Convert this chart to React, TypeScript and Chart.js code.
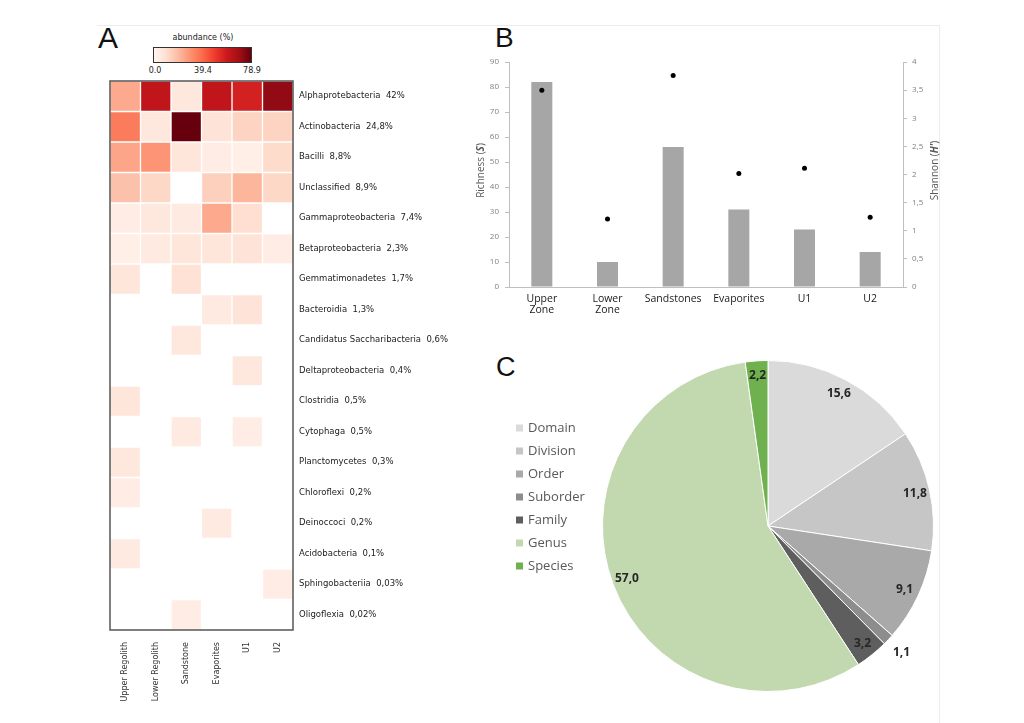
import React, { useEffect, useRef } from "react";
import { Chart, registerables } from "chart.js";
Chart.register(...registerables);

// ---------- Panel A data ----------
const taxa = [
  "Alphaprotebacteria", "Actinobacteria", "Bacilli", "Unclassified", "Gammaproteobacteria",
  "Betaproteobacteria", "Gemmatimonadetes", "Bacteroidia", "Candidatus Saccharibacteria",
  "Deltaproteobacteria", "Clostridia", "Cytophaga", "Planctomycetes", "Chloroflexi",
  "Deinoccoci", "Acidobacteria", "Sphingobacteriia", "Oligoflexia",
];
const taxaShare = [
  "42%", "24,8%", "8,8%", "8,9%", "7,4%", "2,3%", "1,7%", "1,3%", "0,6%",
  "0,4%", "0,5%", "0,5%", "0,3%", "0,2%", "0,2%", "0,1%", "0,03%", "0,02%",
];
const sites = ["Upper Regolith", "Lower Regolith", "Sandstone", "Evaporites", "U1", "U2"];
const abundAlpha = [24, 62, 6, 62, 57, 72];
const abundActino = [35, 6, 78.9, 8, 13, 13];
const abundBacilli = [25, 29, 7, 4, 3, 11];
const abundUnclass = [18, 12, 0, 14, 21, 12];
const abundGamma = [4, 6, 5, 24, 10, 0];
const abundBeta = [3, 5, 7, 7, 8, 4];
const abundGemma = [7, 0, 9, 0, 0, 0];
const abundBactero = [0, 0, 0, 5, 8, 0];
const abundCandid = [0, 0, 6, 0, 0, 0];
const abundDelta = [0, 0, 0, 0, 6, 0];
const abundClostr = [7, 0, 0, 0, 0, 0];
const abundCyto = [0, 0, 5, 0, 4, 0];
const abundPlancto = [6, 0, 0, 0, 0, 0];
const abundChloro = [4, 0, 0, 0, 0, 0];
const abundDeino = [0, 0, 0, 5, 0, 0];
const abundAcido = [5, 0, 0, 0, 0, 0];
const abundSphingo = [0, 0, 0, 0, 0, 4];
const abundOligo = [0, 0, 4, 0, 0, 0];
const abundance = [
  abundAlpha, abundActino, abundBacilli, abundUnclass, abundGamma, abundBeta,
  abundGemma, abundBactero, abundCandid, abundDelta, abundClostr, abundCyto,
  abundPlancto, abundChloro, abundDeino, abundAcido, abundSphingo, abundOligo,
];
const abundanceMax = 78.9;
const colorbarTicks = ["0.0", "39.4", "78.9"];

// ---------- Panel B data ----------
const zones = [["Upper", "Zone"], ["Lower", "Zone"], "Sandstones", "Evaporites", "U1", "U2"];
const richness = [82, 10, 56, 31, 23, 14];
const shannon = [3.5, 1.21, 3.76, 2.02, 2.11, 1.24];

// ---------- Panel C data ----------
const levels = ["Domain", "Division", "Order", "Suborder", "Family", "Genus", "Species"];
const levelShare = [15.6, 11.8, 9.1, 1.1, 3.2, 57.0, 2.2];
const levelColors = ["#dadada", "#c6c6c6", "#a9a9a9", "#8d8d8d", "#5e5e5e", "#c2d9b0", "#6fb04f"];

// ---------- helpers ----------
const redsStops = ["#fff5f0", "#fee0d2", "#fcbba1", "#fc9272", "#fb6a4a", "#ef3b2c", "#cb181d", "#a50f15", "#67000d"];
function hexToRgb(h: string) {
  return [parseInt(h.slice(1, 3), 16), parseInt(h.slice(3, 5), 16), parseInt(h.slice(5, 7), 16)];
}
function reds(v: number) {
  if (v <= 0) return "#ffffff";
  const t = Math.min(v / abundanceMax, 1) * (redsStops.length - 1);
  const i = Math.min(Math.floor(t), redsStops.length - 2);
  const f = t - i;
  const a = hexToRgb(redsStops[i]);
  const b = hexToRgb(redsStops[i + 1]);
  const c = a.map((x, k) => Math.round(x + (b[k] - x) * f));
  return `rgb(${c[0]},${c[1]},${c[2]})`;
}

const SANS = "'Open Sans', 'Liberation Sans', sans-serif";
const DJ = "'DejaVu Sans', sans-serif";

function drawRotatedRich(ctx: CanvasRenderingContext2D, parts: { t: string; f: string }[], x: number, y: number) {
  ctx.save();
  ctx.translate(x, y);
  ctx.rotate(-Math.PI / 2);
  ctx.textBaseline = "middle";
  ctx.textAlign = "left";
  let total = 0;
  for (const p of parts) { ctx.font = p.f; total += ctx.measureText(p.t).width; }
  let cx = -total / 2;
  for (const p of parts) { ctx.font = p.f; ctx.fillText(p.t, cx, 0); cx += ctx.measureText(p.t).width; }
  ctx.restore();
}

export default function App() {
  const heatRef = useRef<HTMLCanvasElement>(null);
  const barRef = useRef<HTMLCanvasElement>(null);
  const pieRef = useRef<HTMLCanvasElement>(null);

  useEffect(() => {
    const charts: Chart[] = [];

    // ----- Heatmap -----
    const framePlugin = {
      id: "frame",
      afterDraw(chart: any) {
        const { ctx, chartArea: a } = chart;
        ctx.save();
        ctx.strokeStyle = "#555";
        ctx.lineWidth = 1.5;
        ctx.strokeRect(a.left, a.top, a.right - a.left, a.bottom - a.top);
        ctx.restore();
      },
    };
    charts.push(new Chart(heatRef.current!, {
      type: "bar",
      data: {
        labels: taxa.map((t, i) => `${t}  ${taxaShare[i]}`),
        datasets: sites.map((s, j) => ({
          label: s,
          data: taxa.map(() => 1),
          backgroundColor: abundance.map((row) => reds(row[j])),
          borderColor: "#ffffff",
          borderWidth: 1,
          borderSkipped: false,
          barPercentage: 1,
          categoryPercentage: 1,
        })),
      },
      options: {
        indexAxis: "y",
        animation: false,
        responsive: false,
        maintainAspectRatio: false,
        layout: { padding: { left: 10, top: 11, right: 0, bottom: 0 } },
        plugins: { legend: { display: false }, tooltip: { enabled: false } },
        scales: {
          x: {
            type: "linear",
            stacked: true,
            min: 0,
            max: 6,
            grid: { display: false },
            border: { display: false },
            afterBuildTicks: (s: any) => { s.ticks = sites.map((_, i) => ({ value: i + 0.5 })); },
            ticks: {
              autoSkip: false,
              minRotation: 90,
              maxRotation: 90,
              padding: 4,
              color: "#333",
              font: { family: DJ, size: 8 },
              callback: (_v: any, i: number) => sites[i],
            },
            afterFit: (s: any) => { s.height = 85; },
          },
          y: {
            position: "right",
            stacked: true,
            grid: { display: false },
            border: { display: false },
            ticks: { padding: -2, color: "#222", font: { family: DJ, size: 8.5 }, autoSkip: false },
            afterFit: (s: any) => { s.width = 167; },
          },
        },
      },
      plugins: [framePlugin],
    } as any));

    // ----- Bar + Shannon -----
    const titlePlugin = {
      id: "axisTitles",
      afterDraw(chart: any) {
        const { ctx, chartArea: a } = chart;
        const cy = (a.top + a.bottom) / 2 - 4;
        ctx.save();
        ctx.fillStyle = "#595959";
        const n = `10px ${SANS}`;
        const ib = `italic bold 10px ${SANS}`;
        drawRotatedRich(ctx, [{ t: "Richness (", f: n }, { t: "S", f: ib }, { t: ")", f: n }], a.left - 28, cy);
        drawRotatedRich(ctx, [{ t: "Shannon (", f: n }, { t: "H'", f: ib }, { t: ")", f: n }], a.right + 32, cy);
        ctx.restore();
      },
    };
    charts.push(new Chart(barRef.current!, {
      type: "bar",
      data: {
        labels: zones,
        datasets: [
          {
            type: "line",
            data: shannon,
            yAxisID: "y1",
            showLine: false,
            pointRadius: 2.5,
            pointBackgroundColor: "#000",
            pointBorderWidth: 0,
            order: 0,
          },
          {
            type: "bar",
            data: richness,
            yAxisID: "y",
            backgroundColor: "#a6a6a6",
            barPercentage: 0.32,
            categoryPercentage: 1,
            order: 1,
          },
        ],
      },
      options: {
        animation: false,
        responsive: false,
        maintainAspectRatio: false,
        layout: { padding: { left: 0, top: 12, right: 0, bottom: 0 } },
        plugins: { legend: { display: false }, tooltip: { enabled: false } },
        scales: {
          x: {
            grid: { display: false },
            border: { display: true, color: "#bfbfbf" },
            ticks: { color: "#1a1a1a", padding: -2, maxRotation: 0, font: { family: SANS, size: 10.5, lineHeight: 1.1 } },
            afterFit: (s: any) => { s.height = 33; },
          },
          y: {
            position: "left",
            min: 0,
            max: 90,
            ticks: { stepSize: 10, color: "#7f7f7f", padding: 6, font: { family: SANS, size: 8 } },
            grid: { drawOnChartArea: false, tickLength: 4, color: "#bfbfbf" },
            border: { color: "#bfbfbf" },
            afterFit: (s: any) => { s.width = 39; },
          },
          y1: {
            position: "right",
            min: 0,
            max: 4,
            ticks: {
              stepSize: 0.5,
              color: "#7f7f7f",
              padding: 5,
              font: { family: SANS, size: 8 },
              callback: (v: any) => String(v).replace(".", ","),
            },
            grid: { drawOnChartArea: false, tickLength: 4, color: "#bfbfbf" },
            border: { color: "#bfbfbf" },
            afterFit: (s: any) => { s.width = 57; },
          },
        },
      },
      plugins: [titlePlugin],
    } as any));

    // ----- Pie -----
    const pieDecor = {
      id: "pieDecor",
      afterDraw(chart: any) {
        const { ctx } = chart;
        const meta = chart.getDatasetMeta(0);
        const vals = chart.data.datasets[0].data as number[];
        const cols = chart.data.datasets[0].backgroundColor as string[];
        ctx.save();
        ctx.font = `bold 12px ${SANS}`;
        ctx.fillStyle = "#262626";
        ctx.textAlign = "center";
        ctx.textBaseline = "middle";
        meta.data.forEach((arc: any, i: number) => {
          const p = arc.getProps(["x", "y", "startAngle", "endAngle", "outerRadius"], true);
          const mid = (p.startAngle + p.endAngle) / 2;
          const k = vals[i] < 2 ? 1.11 : 0.91;
          const lx = p.x + Math.cos(mid) * p.outerRadius * k;
          const ly = p.y + Math.sin(mid) * p.outerRadius * k;
          ctx.fillText(vals[i].toFixed(1).replace(".", ","), lx, ly);
        });
        // legend
        ctx.font = `13px ${SANS}`;
        ctx.textAlign = "left";
        chart.data.labels.forEach((lab: string, i: number) => {
          const y = 83 + i * 23;
          ctx.fillStyle = cols[i];
          ctx.fillRect(21, y - 3.5, 7, 7);
          ctx.fillStyle = "#595959";
          ctx.fillText(lab, 33, y + 0.5);
        });
        ctx.restore();
      },
    };
    charts.push(new Chart(pieRef.current!, {
      type: "pie",
      data: {
        labels: levels,
        datasets: [{
          data: levelShare,
          backgroundColor: levelColors,
          borderColor: "#ffffff",
          borderWidth: 1,
        }],
      },
      options: {
        animation: false,
        responsive: false,
        maintainAspectRatio: false,
        layout: { padding: { left: 107, right: 11, top: 15, bottom: 15 } },
        plugins: { legend: { display: false }, tooltip: { enabled: false } },
      },
      plugins: [pieDecor],
    } as any));

    return () => charts.forEach((c) => c.destroy());
  }, []);

  const letter = (t: string, left: number, top: number, size: number) => (
    <div style={{ position: "absolute", left, top, fontFamily: "'Liberation Sans', Arial, sans-serif", fontSize: size, lineHeight: "normal", color: "#111" }}>{t}</div>
  );
  const small = (t: string, cx: number, cy: number) => (
    <div style={{ position: "absolute", left: cx - 40, width: 80, top: cy - 6, height: 12, lineHeight: "12px", textAlign: "center", fontFamily: DJ, fontSize: 8, color: "#222" }}>{t}</div>
  );

  return (
    <div style={{ position: "absolute", left: 0, top: 0, width: 1024, height: 723, background: "#fff", overflow: "hidden" }}>
      <div style={{ position: "absolute", left: 97, top: 25, width: 842, height: 700, borderTop: "1px solid #ececec", borderRight: "1px solid #ececec" }} />
      {letter("A", 98, 21, 30)}
      {letter("B", 495, 22, 28)}
      {letter("C", 496, 352, 27)}
      {small("abundance (%)", 203, 38)}
      <div style={{ position: "absolute", left: 153, top: 47, width: 99, height: 16, boxSizing: "border-box", border: "1px solid #333", background: `linear-gradient(to right, ${redsStops.join(",")})` }} />
      {small(colorbarTicks[0], 155, 71)}
      {small(colorbarTicks[1], 203, 71)}
      {small(colorbarTicks[2], 252, 71)}
      <canvas ref={heatRef} width={360} height={645} style={{ position: "absolute", left: 100, top: 70, width: 360, height: 645 }} />
      <canvas ref={barRef} width={490} height={270} style={{ position: "absolute", left: 470, top: 50, width: 490, height: 270 }} />
      <canvas ref={pieRef} width={450} height={362} style={{ position: "absolute", left: 495, top: 345, width: 450, height: 362 }} />
    </div>
  );
}
